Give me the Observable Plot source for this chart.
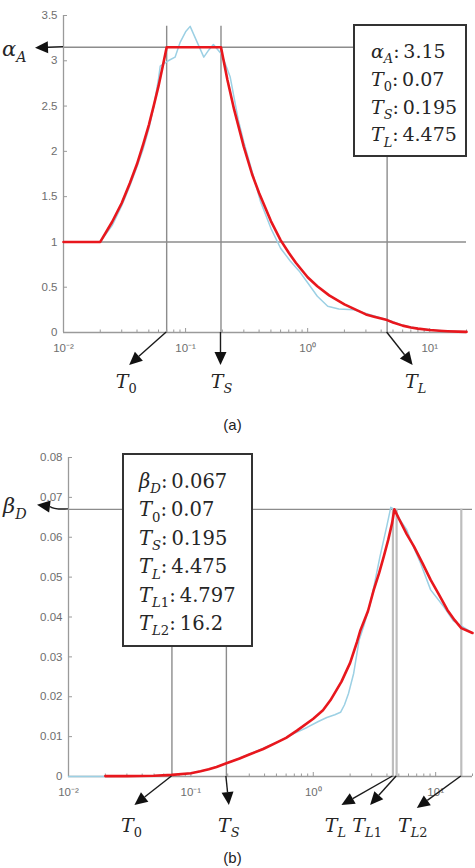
<!DOCTYPE html>
<html><head><meta charset="utf-8">
<script src="https://cdn.jsdelivr.net/npm/d3@7"></script>
<script src="https://cdn.jsdelivr.net/npm/@observablehq/plot@0.6"></script>
<style>
body{margin:0;background:#fff;}
#wrap{position:relative;width:475px;height:868px;overflow:hidden;font-family:"Liberation Sans",Arial,sans-serif;background:#fff;}
#pa,#pb{position:absolute;left:0;}
.cap{position:absolute;left:0;width:465px;text-align:center;font-size:15px;line-height:18px;color:#222;}
</style></head><body>
<div id="wrap">
  <div id="pa" style="top:0"></div>
  <div class="cap" style="top:416px">(a)</div>
  <div id="pb" style="top:440px"></div>
  <div class="cap" style="top:849px">(b)</div>
</div>
<script>
// ---- parameters shown in the boxes ----
const alphaA = 3.15, betaD = 0.067;
const T0 = 0.07, TS = 0.195, TL = 4.475, TL1 = 4.797, TL2 = 16.2;

// ---- axis ticks ----
const xTickValues = [0.01, 0.1, 1, 10];
const xTickLabels = ["10\u207B\u00B2", "10\u207B\u00B9", "10\u2070", "10\u00B9"];
const xMinorTicks = [0.02,0.03,0.04,0.05,0.06,0.07,0.08,0.09,0.2,0.3,0.4,0.5,0.6,0.7,0.8,0.9,2,3,4,5,6,7,8,9,20];
const yTicksA = [0, 0.5, 1, 1.5, 2, 2.5, 3, 3.5];
const yTickLabelsA = ["0", "0.5", "1", "1.5", "2", "2.5", "3", "3.5"];
const yTicksB = [0, 0.01, 0.02, 0.03, 0.04, 0.05, 0.06, 0.07, 0.08];
const yTickLabelsB = ["0", "0.01", "0.02", "0.03", "0.04", "0.05", "0.06", "0.07", "0.08"];

// ---- panel (a): red idealised curve ----
const redA_T = [0.01, 0.02, 0.025, 0.03, 0.035, 0.04, 0.045, 0.05, 0.055, 0.06, 0.065, 0.07, 0.195, 0.22, 0.25, 0.3, 0.35, 0.4, 0.5, 0.6, 0.7, 0.8, 1, 1.2, 1.5, 2, 2.5, 3, 3.5, 4, 4.475, 5, 6, 7, 8, 10, 12, 14, 17, 20];
const redA_V = [1, 1, 1.22, 1.43, 1.65, 1.86, 2.08, 2.29, 2.51, 2.72, 2.94, 3.15, 3.15, 2.79, 2.46, 2.05, 1.75, 1.54, 1.23, 1.02, 0.88, 0.77, 0.61, 0.51, 0.41, 0.31, 0.25, 0.2, 0.175, 0.154, 0.137, 0.11, 0.076, 0.056, 0.043, 0.027, 0.019, 0.014, 0.01, 0.007];
// ---- panel (a): blue measured curve ----
const blueA_T = [0.01, 0.015, 0.02, 0.025, 0.03, 0.035, 0.04, 0.045, 0.05, 0.055, 0.06, 0.062, 0.072, 0.082, 0.09, 0.1, 0.109, 0.123, 0.141, 0.155, 0.169, 0.198, 0.232, 0.27, 0.3, 0.35, 0.41, 0.5, 0.6, 0.72, 0.85, 1, 1.2, 1.46, 1.8, 2.39, 3, 4.475, 6, 8, 10, 14, 20];
const blueA_V = [1, 1, 1, 1.18, 1.4, 1.62, 1.83, 2.03, 2.25, 2.5, 2.8, 2.94, 3.0, 3.04, 3.2, 3.32, 3.38, 3.22, 3.04, 3.12, 3.18, 3.07, 2.82, 2.35, 2.1, 1.78, 1.45, 1.15, 0.93, 0.79, 0.68, 0.55, 0.4, 0.29, 0.26, 0.25, 0.21, 0.14, 0.08, 0.045, 0.03, 0.015, 0.008];

// ---- panel (b): red idealised curve ----
const redB_T = [0.02, 0.03, 0.05, 0.07, 0.1, 0.12, 0.14, 0.162, 0.195, 0.25, 0.3, 0.39, 0.5, 0.6, 0.735, 1, 1.2, 1.38, 1.7, 2, 2.28, 2.43, 2.8, 3.12, 3.45, 3.77, 4.1, 4.41, 4.6, 5, 5.8, 6.64, 7.8, 9.1, 10.7, 12.5, 14.3, 16.2, 20];
const redB_V = [0.0001, 0.0001, 0.0002, 0.0004, 0.0008, 0.0013, 0.0018, 0.0024, 0.0033, 0.0045, 0.0055, 0.0069, 0.0085, 0.0097, 0.0115, 0.0145, 0.0166, 0.0191, 0.0238, 0.0285, 0.0338, 0.0367, 0.0415, 0.0468, 0.051, 0.0552, 0.0594, 0.0636, 0.067, 0.0647, 0.0608, 0.0577, 0.0535, 0.0493, 0.0455, 0.0417, 0.0392, 0.0372, 0.036];
// ---- panel (b): blue measured curve ----
const blueB_T = [0.01, 0.02, 0.03, 0.05, 0.07, 0.1, 0.14, 0.195, 0.3, 0.4, 0.537, 0.7, 0.89, 1.1, 1.29, 1.5, 1.67, 1.8, 1.94, 2.14, 2.37, 2.57, 2.9, 3.1, 3.5, 4.0, 4.3, 4.6, 5.2, 5.8, 6.5, 7.5, 9.1, 11.7, 14, 16.7, 20];
const blueB_V = [0, 0, 0.0001, 0.0002, 0.0004, 0.0008, 0.0018, 0.0033, 0.0056, 0.0072, 0.009, 0.0108, 0.0123, 0.0138, 0.0148, 0.0155, 0.0161, 0.018, 0.0208, 0.0259, 0.0342, 0.0375, 0.043, 0.047, 0.055, 0.063, 0.0675, 0.067, 0.064, 0.0619, 0.058, 0.0536, 0.0468, 0.0425, 0.039, 0.0375, 0.036];

const zip = (T, V) => T.map((t, i) => ({T: t, v: V[i]}));
const redA = zip(redA_T, redA_V), blueA = zip(blueA_T, blueA_V);
const redB = zip(redB_T, redB_V), blueB = zip(blueB_T, blueB_V);

const AXIS = "#9a9a9a", REF = "#8c8c8c", REF2 = "#bdbdbd", LBL = "#6e6e6e";
const RED = "#e8171d", BLUE = "#9cd0e4";
const SERIF = "DejaVu Serif";

function axesMarks(yTicks, yLabels, plotW, plotH) {
  return [
    Plot.ruleX([0.01], {stroke: AXIS, strokeWidth: 1.3}),
    Plot.ruleY([0], {stroke: AXIS, strokeWidth: 1.3}),
    Plot.tickY(yTicks, {y: d => d, stroke: AXIS, insetRight: plotW - 4}),
    Plot.tickX(xTickValues, {x: d => d, stroke: AXIS, insetTop: plotH - 4}),
    Plot.tickX(xMinorTicks, {x: d => d, stroke: AXIS, insetTop: plotH - 2.5}),
    Plot.axisY(yTicks, {tickSize: 0, tickPadding: 6, fontSize: 11.5, fill: LBL, label: null,
      tickFormat: d => yLabels[yTicks.indexOf(d)]}),
    Plot.axisX(xTickValues, {tickSize: 0, tickPadding: 11, fontSize: 11.5, fill: LBL, label: null,
      tickFormat: d => xTickLabels[xTickValues.indexOf(d)]})
  ];
}
const plotStyle = {fontFamily: "Liberation Sans, Arial, sans-serif", fontSize: "11.5px", background: "transparent", overflow: "visible"};

// ---------- panel (a) ----------
const A = {w: 475, h: 410, ml: 63, mr: 9, mt: 15, mb: 78};
const plotA = Plot.plot({
  width: A.w, height: A.h, marginLeft: A.ml, marginRight: A.mr, marginTop: A.mt, marginBottom: A.mb,
  style: plotStyle,
  x: {type: "log", domain: [0.01, 20], axis: null},
  y: {domain: [0, 3.5], axis: null},
  marks: [
    Plot.ruleY([1, alphaA], {stroke: REF, strokeWidth: 1.4}),
    Plot.ruleX([T0, TS], {y1: 0, y2: d3.max(blueA_V), stroke: REF, strokeWidth: 1.4}),
    Plot.ruleX([TL], {y1: 0, y2: alphaA, stroke: REF, strokeWidth: 1.4}),
    ...axesMarks(yTicksA, yTickLabelsA, A.w - A.ml - A.mr, A.h - A.mt - A.mb),
    Plot.line(blueA, {x: "T", y: "v", stroke: BLUE, strokeWidth: 1.5}),
    Plot.line(redA, {x: "T", y: "v", stroke: RED, strokeWidth: 2.6})
  ]
});
document.getElementById("pa").appendChild(plotA);

// ---------- panel (b) ----------
const B = {w: 475, h: 428, ml: 68, mr: 3, mt: 17, mb: 92};
const plotB = Plot.plot({
  width: B.w, height: B.h, marginLeft: B.ml, marginRight: B.mr, marginTop: B.mt, marginBottom: B.mb,
  style: plotStyle,
  x: {type: "log", domain: [0.01, 20], axis: null},
  y: {domain: [0, 0.08], axis: null},
  marks: [
    Plot.ruleY([betaD], {stroke: REF, strokeWidth: 1.4}),
    Plot.ruleX([T0, TS], {y1: 0, y2: betaD, stroke: REF, strokeWidth: 1.4}),
    Plot.ruleX([TL, TL1, TL2], {y1: 0, y2: betaD, stroke: REF2, strokeWidth: 2.2}),
    ...axesMarks(yTicksB, yTickLabelsB, B.w - B.ml - B.mr, B.h - B.mt - B.mb),
    Plot.line(blueB, {x: "T", y: "v", stroke: BLUE, strokeWidth: 1.5}),
    Plot.line(redB, {x: "T", y: "v", stroke: RED, strokeWidth: 2.6})
  ]
});
document.getElementById("pb").appendChild(plotB);

// ---------- annotation helpers ----------
function arrow(g, x1, y1, x2, y2, curve) {
  const dx = x2 - x1, dy = y2 - y1, len = Math.hypot(dx, dy);
  const ux = dx / len, uy = dy / len, L = 13, W = 6;
  const bx = x2 - ux * L, by = y2 - uy * L;
  if (curve) {
    g.append("path").attr("d", `M${x1},${y1}Q${x1 - 14},${y1 + 1} ${bx},${by}`)
      .attr("fill", "none").attr("stroke", "#1a1a1a").attr("stroke-width", 1.4);
  } else {
    g.append("line").attr("x1", x1).attr("y1", y1).attr("x2", bx).attr("y2", by)
      .attr("stroke", "#1a1a1a").attr("stroke-width", 1.4);
  }
  g.append("path").attr("d", `M${x2},${y2}L${bx + uy * W},${by - ux * W}L${bx - uy * W},${by + ux * W}Z`)
    .attr("fill", "#111");
}
function sym(g, x, y, main, sub, size, anchor, rest) {
  const t = g.append("text").attr("x", x).attr("y", y).attr("font-family", SERIF)
    .attr("font-size", size).attr("fill", "#262626").attr("text-anchor", anchor || "start");
  t.append("tspan").attr("font-style", "italic").text(main);
  const drop = size * 0.28;
  [...sub].forEach((c, i) => {
    t.append("tspan").attr("font-size", size * 0.68).attr("font-style", /\d/.test(c) ? "normal" : "italic")
      .attr("dy", i === 0 ? drop : 0).text(c);
  });
  if (rest !== undefined) t.append("tspan").attr("dy", -drop).text(rest);
  return t;
}
function box(g, x, y, w, h, x0, y0, step, size, lines) {
  g.append("rect").attr("x", x).attr("y", y).attr("width", w).attr("height", h)
    .attr("fill", "#fff").attr("stroke", "#333").attr("stroke-width", 2);
  lines.forEach((l, i) => sym(g, x0, y0 + i * step, l[0], l[1], size, "start", ":\u2009" + l[2]));
}

// ---------- panel (a) annotations ----------
{
  const sx = plotA.scale("x"), sy = plotA.scale("y");
  const g = d3.select(plotA).append("g");
  const y0 = sy.apply(0), xa = sx.apply(0.01), ya = sy.apply(alphaA);
  box(g, 354, 25, 112, 131, 371, 58, 27.8, 19,
    [["\u03B1", "A", String(alphaA)], ["T", "0", String(T0)], ["T", "S", String(TS)], ["T", "L", String(TL)]]);
  arrow(g, xa, ya, xa - 28, ya + 1);
  sym(g, 2, ya + 9, "\u03B1", "A", 21, "start");
  const arrowsA = [[T0, "0", -37, 33, -3], [TS, "S", 0, 33, 1], [TL, "L", 26, 33, 3]];
  arrowsA.forEach(([v, s, dx, dy, lx]) => {
    const x = sx.apply(v);
    arrow(g, x, y0, x + dx, y0 + dy);
    sym(g, x + dx + lx, y0 + dy + 23, "T", s, 19, "middle");
  });
}
// ---------- panel (b) annotations ----------
{
  const sx = plotB.scale("x"), sy = plotB.scale("y");
  const g = d3.select(plotB).append("g");
  const y0 = sy.apply(0), xa = sx.apply(0.01), yb = sy.apply(betaD);
  box(g, 123, 14, 129, 192, 139, 48, 28.4, 19.5,
    [["\u03B2", "D", String(betaD)], ["T", "0", String(T0)], ["T", "S", String(TS)], ["T", "L", String(TL)], ["T", "L1", String(TL1)], ["T", "L2", String(TL2)]]);
  arrow(g, xa, yb, xa - 31, yb - 4, true);
  sym(g, 3, yb + 4, "\u03B2", "D", 21, "start");
  const arrowsB = [[T0, "0", -37, 29, -3], [TS, "S", 3, 29, 0], [TL, "L", -51, 29, -6], [TL1, "L1", -26, 29, -3], [TL2, "L2", -44, 32, -4]];
  arrowsB.forEach(([v, s, dx, dy, lx]) => {
    const x = sx.apply(v);
    arrow(g, x, y0, x + dx, y0 + dy);
    sym(g, x + dx + lx, y0 + 56, "T", s, 19, "middle");
  });
}
</script>
</body></html>
